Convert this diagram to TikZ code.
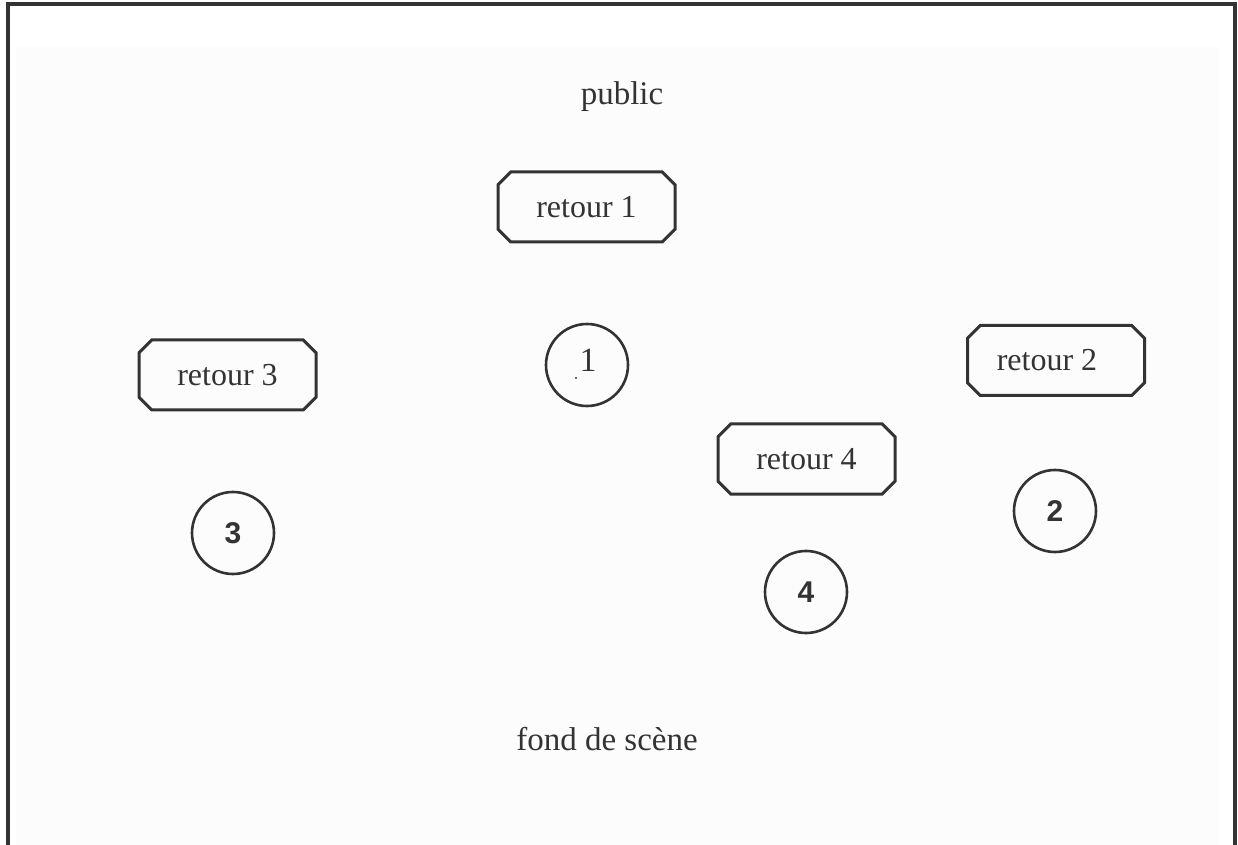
\documentclass[tikz,border=0pt]{standalone}
\usepackage{fontspec}
\setmainfont{Liberation Serif}
\newfontfamily\numfont{Liberation Sans}
\usetikzlibrary{shapes.misc}
\definecolor{ink}{HTML}{333333}
\definecolor{stage}{HTML}{FCFCFC}
\tikzset{
  retbox/.style={chamfered rectangle, chamfered rectangle xsep=3.2pt, chamfered rectangle ysep=3.2pt,
    draw=ink, line width=1.5pt, minimum width=88.5pt, minimum height=35pt, inner sep=0pt,
    text=ink, font=\fontsize{16}{18}\selectfont},
  spot/.style={circle, draw=ink, line width=1.3pt, minimum size=41pt, inner sep=0pt, text=ink},
  snum/.style={font=\numfont\bfseries\fontsize{15}{17}\selectfont},
  rnum/.style={font=\fontsize{17}{19}\selectfont},
  lbl/.style={text=ink, font=\fontsize{16.5}{19}\selectfont}
}
\begin{document}
\begin{tikzpicture}[x=0.5pt,y=-0.5pt]
\useasboundingbox (0,0) rectangle (1238,845);
\fill[white] (0,0) rectangle (1238,845);
\fill[stage] (16,47) rectangle (1218,845);
\draw[ink, line width=1.6pt] (8,845) -- (8,4) -- (1235,4) -- (1235,845);
\node[lbl] (public) at (622,97) {public};
\node[lbl] (fond) at (607,739) {fond de scène};
\node[retbox] (r1) at (586.5,207) {retour 1};
\node[retbox] (r3) at (227.5,375) {retour 3};
\node[retbox] (r2) at (1056,360.5) {retour 2\kern9pt};
\node[retbox] (r4) at (806.5,459) {retour 4};
\node[spot] (c1) at (587,365) {};
\node[rnum, text=ink] (n1) at (588,360) {1};
\node[spot, snum] (c3) at (233,533) {3};
\node[spot, snum] (c2) at (1055,511) {2};
\node[spot, snum] (c4) at (806,592) {4};
\fill[ink] (576,378) circle (0.6pt);
\end{tikzpicture}
\end{document}
